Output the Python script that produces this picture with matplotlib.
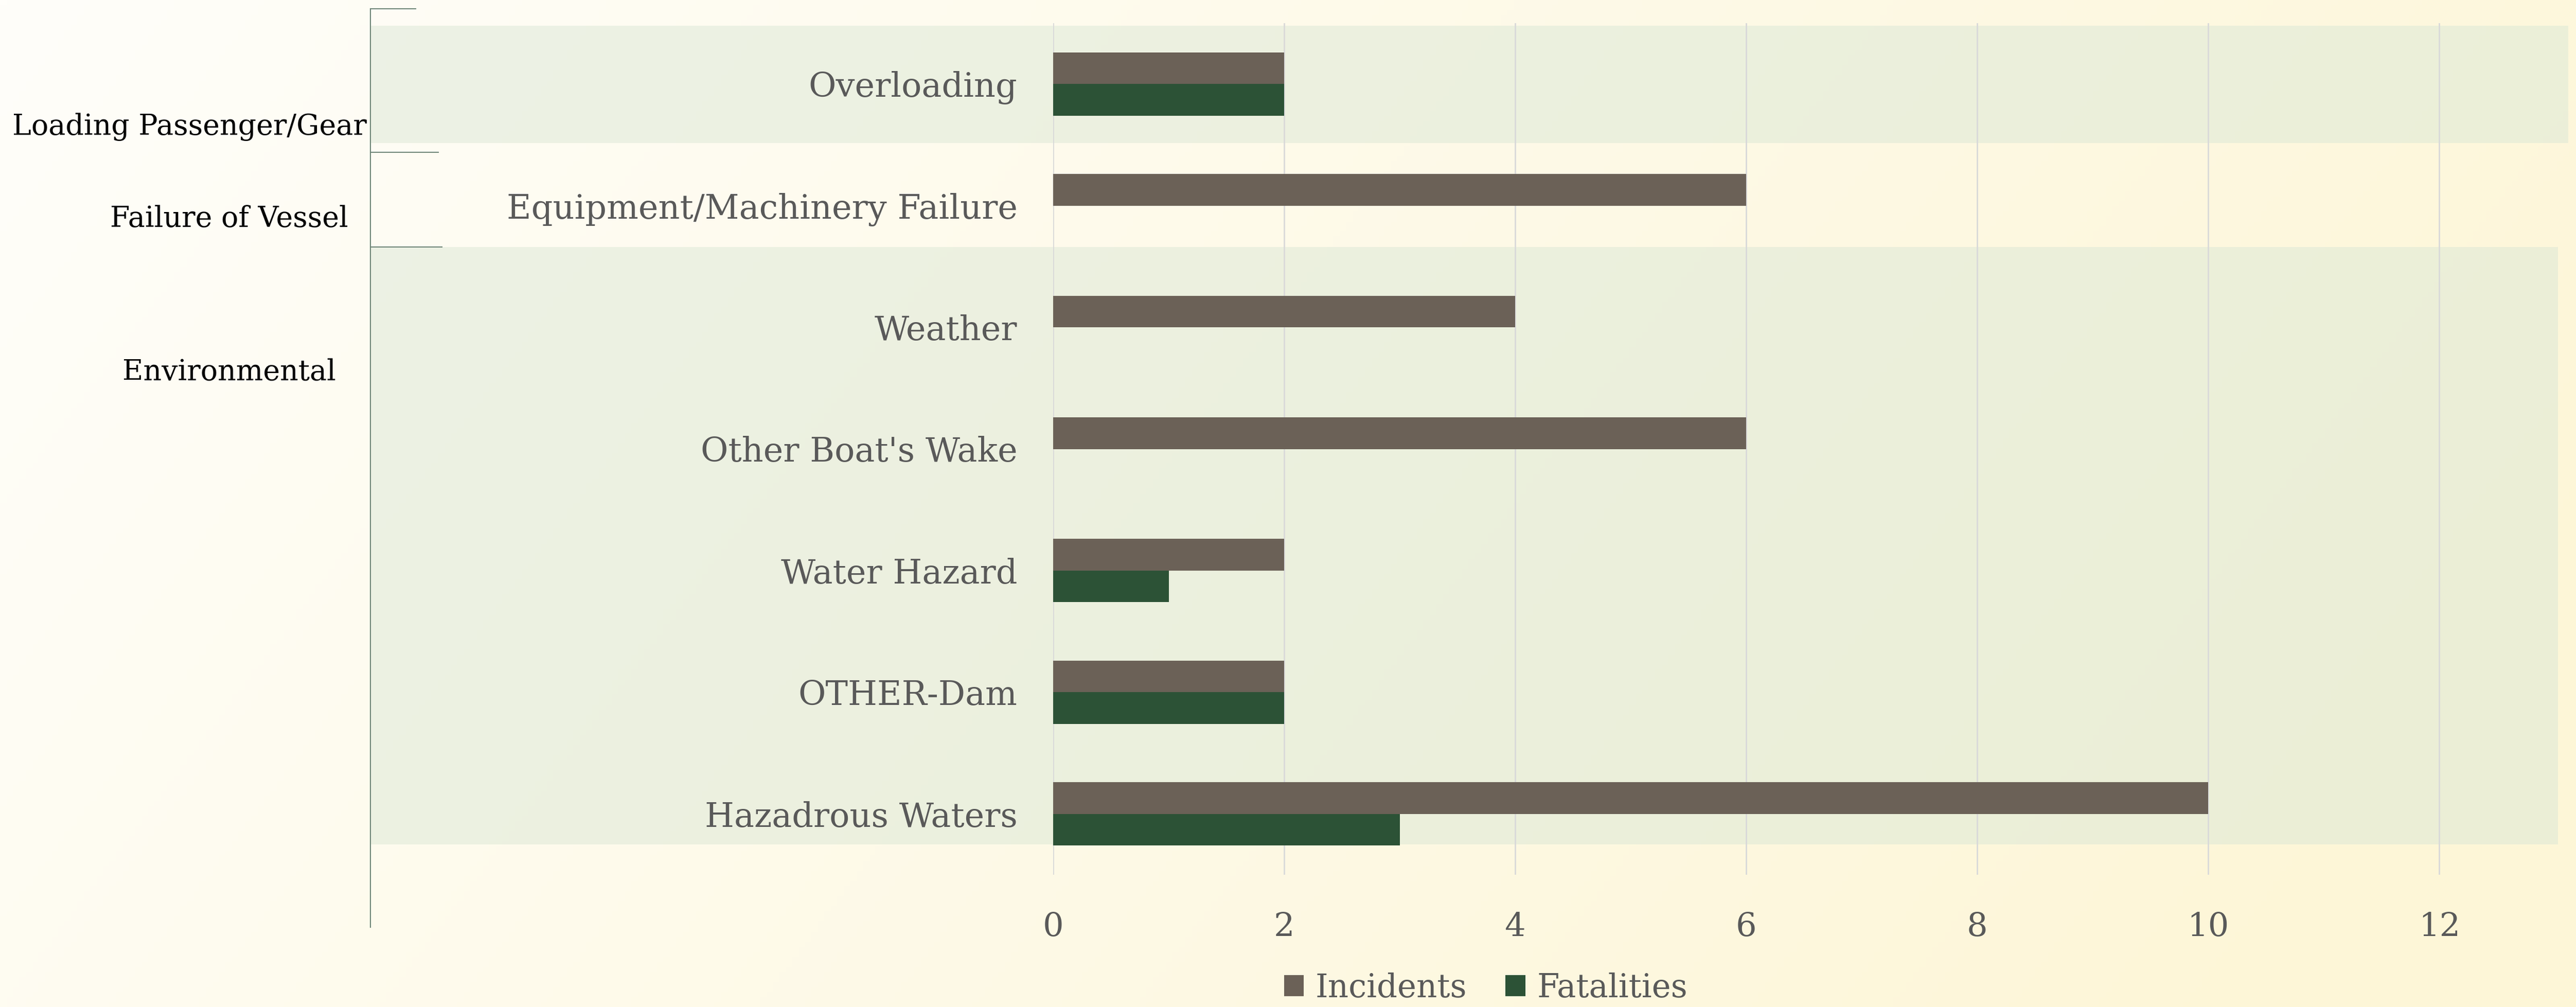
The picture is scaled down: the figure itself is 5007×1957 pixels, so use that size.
import numpy as np
import matplotlib
matplotlib.use("Agg")
import matplotlib.pyplot as plt
from matplotlib.transforms import blended_transform_factory
from matplotlib.patches import Rectangle

plt.rcParams['font.family'] = ['DejaVu Serif']

categories = ['Overloading', 'Equipment/Machinery Failure', 'Weather',
              "Other Boat's Wake", 'Water Hazard', 'OTHER-Dam', 'Hazadrous Waters']
incidents = [2, 6, 4, 6, 2, 2, 10]
fatalities = [2, 0, 0, 0, 1, 2, 3]
groups = ['Loading Passenger/Gear', 'Failure of Vessel', 'Environmental']
x_ticks = [0, 2, 4, 6, 8, 10, 12]

inc_color = '#6B6157'
fat_color = '#2C5236'
label_gray = '#595959'
line_color = '#6E8577'

W, H = 5007, 1957
fig = plt.figure(figsize=(W / 100, H / 100), dpi=100)

# gradient background
bg = fig.add_axes([0, 0, 1, 1], zorder=-10)
xx, yy = np.meshgrid(np.linspace(0, 1, 400), np.linspace(0, 1, 200))
t = np.clip(0.85 * xx + 0.25 * yy, 0, 1)
c0 = np.array([255, 254, 250]) / 255
c1 = np.array([253, 246, 215]) / 255
img = c0[None, None, :] * (1 - t[..., None]) + c1[None, None, :] * t[..., None]
bg.imshow(img, aspect='auto', extent=[0, 1, 0, 1], origin='upper')
bg.axis('off')

ax = fig.add_axes([2047 / W, 1 - 1700 / H, (4966 - 2047) / W, 1655 / H])
ax.patch.set_alpha(0)

y = np.arange(len(categories))
bh = 0.26
ax.barh(y - bh / 2, incidents, height=bh, color=inc_color, zorder=3, label='Incidents')
ax.barh(y + bh / 2, fatalities, height=bh, color=fat_color, zorder=3, label='Fatalities')

ax.set_xlim(0, 13)
ax.set_ylim(len(categories) - 0.5, -0.5)
ax.set_xticks(x_ticks)
ax.set_yticks(y)
ax.set_yticklabels(categories)
ax.tick_params(axis='y', length=0, pad=50, labelsize=47, labelcolor=label_gray)
ax.tick_params(axis='x', length=0, pad=52, labelsize=46, labelcolor=label_gray)
ax.grid(axis='x', color='#D9D9D9', linewidth=2, zorder=1)
for s in ax.spines.values():
    s.set_visible(False)

# group bands, brackets and labels
tr = blended_transform_factory(ax.transAxes, ax.transData)
band_kw = dict(facecolor='#DBE8D6', alpha=0.5, edgecolor='none', transform=tr,
               clip_on=False, zorder=0)
ax.add_patch(Rectangle((-0.4546, -0.478), 1.4635, 0.965, **band_kw))
ax.add_patch(Rectangle((-0.4546, 1.341), 1.4566, 4.909, **band_kw))

ax.plot([-0.4546, -0.4546], [-0.618, 6.93], color=line_color, lw=1.5,
        transform=tr, clip_on=False)
for yy_, xe in [(-0.618, -0.4245), (0.563, -0.4093), (1.341, -0.4069)]:
    ax.plot([-0.4546, xe], [yy_, yy_], color=line_color, lw=1.5,
            transform=tr, clip_on=False)

for g, gx, gy in zip(groups, [-0.5752, -0.5488, -0.5488], [0.351, 1.109, 2.37]):
    ax.text(gx, gy, g, transform=tr, ha='center', va='center', fontsize=40,
            color='black', clip_on=False)

fig.legend(loc='center', bbox_to_anchor=(2888 / W, 1 - 1920 / H), ncol=2,
           frameon=False, fontsize=45, labelcolor=label_gray,
           handlelength=0.62, handleheight=0.62, handletextpad=0.36,
           columnspacing=1.2)

fig.savefig('out.png', dpi=100)
